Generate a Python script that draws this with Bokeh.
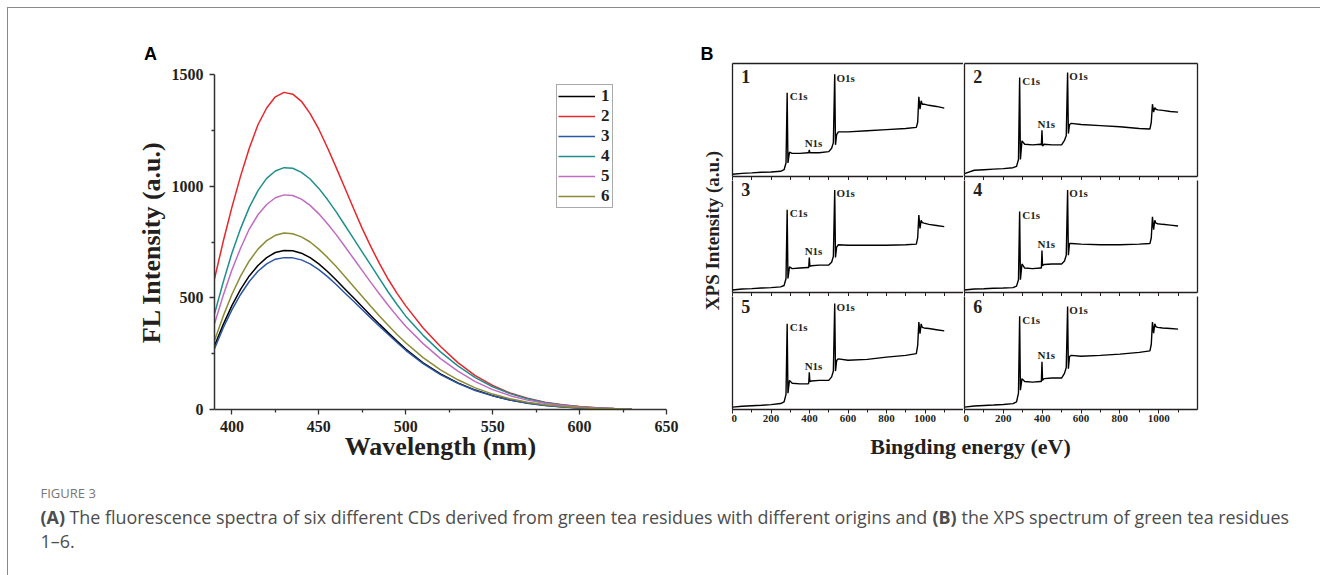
import math
from bokeh.plotting import figure
from bokeh.models import (Range1d, LinearAxis, FixedTicker, Legend, LegendItem, Spacer)
from bokeh.layouts import row, column
from bokeh.embed import file_html
from bokeh.resources import INLINE
from bokeh.core.properties import value

# ---------------- data : panel A (fluorescence spectra) ----------------
wavelength_nm = [390, 395, 400, 405, 410, 415, 420, 425, 430, 435, 440, 445,
                 450, 455, 460, 465, 470, 475, 480, 485, 490, 495, 500,
                 510, 520, 530, 540, 550, 560, 570, 580, 590, 600, 610, 620, 630]
fl_1 = [285, 380, 465, 538, 598, 645, 680, 703, 712, 711, 700, 680,
        652, 618, 580, 540, 500, 460, 420, 381, 343, 306, 271,
        209, 159, 119, 87, 62, 43, 29, 19, 12, 7, 4, 2, 1]
fl_2 = [585, 752, 905, 1045, 1170, 1275, 1350, 1400, 1420, 1412, 1380, 1325,
        1255, 1172, 1083, 992, 900, 810, 728, 652, 582, 520, 464,
        365, 282, 210, 152, 108, 74, 50, 33, 21, 13, 8, 4, 2]
fl_3 = [272, 365, 446, 515, 573, 619, 652, 673, 680, 679, 670, 652,
        626, 595, 560, 522, 485, 447, 409, 372, 336, 300, 265,
        205, 156, 117, 85, 61, 42, 28, 18, 11, 7, 4, 2, 1]
fl_4 = [428, 570, 700, 810, 905, 980, 1035, 1068, 1083, 1080, 1062, 1032,
        990, 940, 885, 825, 765, 705, 645, 585, 525, 470, 418,
        332, 258, 195, 143, 102, 71, 48, 31, 20, 12, 7, 4, 2]
fl_5 = [384, 510, 625, 722, 808, 872, 918, 948, 961, 958, 942, 914,
        876, 832, 783, 730, 676, 622, 568, 516, 466, 418, 373,
        295, 228, 172, 125, 89, 62, 42, 28, 18, 11, 6, 3, 1]
fl_6 = [309, 418, 515, 597, 665, 718, 756, 780, 790, 787, 773, 750,
        718, 681, 640, 596, 551, 506, 461, 418, 376, 336, 299,
        232, 177, 133, 97, 69, 48, 32, 21, 13, 8, 5, 3, 1]
fl_names = ["1", "2", "3", "4", "5", "6"]
fl_colors = ["#000000", "#e8262b", "#2c56a8", "#1f8f8c", "#c06cc0", "#8c8c36"]

a_x_ticks = [400, 450, 500, 550, 600, 650]
a_x_minor = [425, 475, 525, 575, 625]
a_y_ticks = [0, 500, 1000, 1500]
a_y_minor = [250, 750, 1250]

# ---------------- data : panel B (XPS survey spectra) ----------------
energy_eV = [0, 50, 100, 150, 200, 250, 268, 278, 284, 288, 296, 310,
             350, 392, 396, 399, 402, 410, 450, 500, 515, 524, 531, 535,
             541, 550, 600, 700, 800, 900, 955, 962, 968, 974, 980, 986,
             995, 1020, 1060, 1100]
xps_1 = [2.0, 2.8, 3.2, 3.8, 4.0, 4.6, 6.0, 12.0, 74.0, 12.0, 21.5, 20.5,
         20.5, 21.0, 21.0, 23.5, 21.0, 21.0, 21.0, 22.0, 25.0, 30.0, 90.5, 28.0,
         37.0, 39.5, 39.5, 40.5, 41.5, 42.5, 43.5, 48.0, 70.5, 59.5, 67.0, 64.0,
         64.0, 63.0, 62.0, 60.5]
xps_2 = [2.5, 5.5, 6.0, 6.5, 7.0, 7.8, 9.0, 15.0, 87.5, 15.0, 31.5, 28.5,
         28.0, 28.5, 28.0, 41.0, 27.0, 28.5, 28.0, 28.0, 32.0, 36.0, 92.0, 38.0,
         46.0, 47.0, 46.0, 45.0, 44.0, 42.5, 42.0, 48.0, 64.0, 57.0, 61.0, 59.5,
         59.0, 58.5, 57.5, 57.0]
xps_3 = [2.2, 3.0, 3.3, 3.8, 4.2, 4.8, 6.0, 12.0, 71.0, 12.0, 22.0, 20.5,
         21.0, 21.5, 21.5, 30.0, 22.5, 23.0, 23.5, 23.5, 26.0, 31.0, 88.0, 30.0,
         39.0, 41.0, 40.5, 40.5, 40.5, 41.0, 41.5, 47.0, 66.5, 55.0, 62.0, 60.0,
         59.5, 58.5, 57.5, 56.5]
xps_4 = [2.2, 3.0, 3.2, 3.6, 3.8, 4.2, 5.5, 11.0, 69.5, 11.0, 24.5, 21.0,
         20.5, 21.0, 21.0, 36.0, 23.0, 24.0, 24.5, 24.5, 27.0, 32.0, 88.0, 32.0,
         42.0, 42.0, 41.5, 41.0, 41.0, 41.5, 42.0, 47.0, 65.0, 54.0, 62.0, 59.5,
         59.0, 58.5, 57.8, 57.0]
xps_5 = [2.0, 2.8, 3.2, 3.6, 4.2, 5.1, 6.5, 13.0, 73.5, 14.0, 25.0, 22.5,
         22.0, 22.0, 22.5, 32.0, 24.0, 24.5, 25.0, 25.0, 28.0, 33.0, 91.0, 33.0,
         42.0, 43.5, 42.3, 43.0, 45.0, 46.5, 48.0, 55.0, 75.0, 65.0, 73.5, 70.5,
         70.0, 69.5, 68.5, 67.5]
xps_6 = [2.0, 3.0, 3.4, 3.8, 4.3, 5.0, 6.5, 14.0, 80.0, 16.6, 26.5, 24.0,
         23.5, 24.0, 24.0, 41.0, 25.0, 26.5, 27.0, 27.0, 31.0, 36.0, 88.5, 35.0,
         45.5, 46.5, 45.7, 46.5, 47.5, 49.0, 50.3, 56.0, 75.0, 65.5, 73.5, 71.0,
         70.5, 70.0, 69.5, 69.0]
xps_series = [xps_1, xps_2, xps_3, xps_4, xps_5, xps_6]
xps_labels = ["1", "2", "3", "4", "5", "6"]
peak_names = ["C1s", "N1s", "O1s"]
peak_energy = [284, 399, 531]
b_x_ticks = [0, 200, 400, 600, 800, 1000]
b_x_minor = [100, 300, 500, 700, 900, 1100]

caption_head = "FIGURE 3"
caption_parts = [("(A)", "bold"),
                 ("The fluorescence spectra of six different CDs derived from green tea residues with different origins and", "normal"),
                 ("(B)", "bold"),
                 ("the XPS spectrum of green tea residues", "normal")]
caption_line2 = "1\u20136."

# ---------------- styling ----------------
SERIF = "Liberation Serif"
SANS = "Liberation Sans"
CAPF = "Open Sans"
INK = "#231f20"
FRAME = "#8a8a8a"


def blank_fig(w, h, xr, yr):
    p = figure(width=w, height=h, x_range=Range1d(*xr), y_range=Range1d(*yr),
               output_backend="svg", toolbar_location=None,
               x_axis_location=None, y_axis_location=None,
               min_border_left=0, min_border_right=0, min_border_top=0, min_border_bottom=0)
    p.frame_align = False
    p.outline_line_color = None
    p.grid.visible = False
    p.background_fill_color = "white"
    p.border_fill_color = "white"
    return p


# ---------------- panel A ----------------
stripA = blank_fig(689, 58, (0, 689), (0, 58))
stripA.text(x=[142], y=[12.5], text=["A"], text_font=value(SANS),
            text_font_style="bold", text_font_size="18px", text_color="#000000",
            text_align="center", text_baseline="middle")

pA = figure(width=689, height=404, x_range=Range1d(390, 650), y_range=Range1d(0, 1500),
            output_backend="svg", toolbar_location=None,
            min_border_left=206, min_border_right=31, min_border_top=8, min_border_bottom=61)
pA.frame_align = False
pA.outline_line_color = None
pA.grid.visible = False
pA.background_fill_color = "white"
pA.border_fill_color = "white"
pA.xaxis.axis_label = "Wavelength (nm)"
pA.yaxis.axis_label = "FL Intensity (a.u.)"
pA.xaxis.ticker = FixedTicker(ticks=a_x_ticks, minor_ticks=a_x_minor)
pA.yaxis.ticker = FixedTicker(ticks=a_y_ticks, minor_ticks=a_y_minor)
for ax in (pA.xaxis[0], pA.yaxis[0]):
    ax.axis_line_color = "#333333"
    ax.axis_line_width = 1.5
    ax.major_tick_line_color = "#333333"
    ax.minor_tick_line_color = "#333333"
    ax.major_tick_line_width = 1.3
    ax.minor_tick_line_width = 1.3
    ax.major_tick_in = 0
    ax.major_tick_out = 5
    ax.minor_tick_in = 0
    ax.minor_tick_out = 3
    ax.major_label_text_font = SERIF
    ax.major_label_text_font_style = "bold"
    ax.major_label_text_font_size = "16px"
    ax.major_label_text_color = INK
    ax.major_label_standoff = 6
    ax.axis_label_text_font = SERIF
    ax.axis_label_text_font_style = "bold"
    ax.axis_label_text_font_size = "26px"
    ax.axis_label_text_color = INK
pA.xaxis.axis_label_standoff = -3
pA.yaxis.axis_label_standoff = 3

fl_all = [fl_1, fl_2, fl_3, fl_4, fl_5, fl_6]
items = []
for name, ys, col in zip(fl_names, fl_all, fl_colors):
    r = pA.line(wavelength_nm, ys, line_color=col, line_width=1.5)
    items.append(LegendItem(label=name, renderers=[r]))
legend = Legend(items=items, location=(342, 201), orientation="vertical",
                border_line_color="#555555", border_line_width=1,
                background_fill_color="white", background_fill_alpha=1.0,
                padding=1, margin=0, spacing=0,
                glyph_width=37, glyph_height=20, label_height=20, label_width=10,
                label_standoff=6,
                label_text_font=SERIF, label_text_font_style="bold",
                label_text_font_size="17px", label_text_color=INK)
pA.add_layout(legend)

panelA = column(stripA, pA)

# ---------------- panel B ----------------


def line_only_axis():
    ax = LinearAxis(ticker=FixedTicker(ticks=[], minor_ticks=[]))
    ax.axis_line_color = INK
    ax.axis_line_width = 1.3
    ax.major_tick_in = 0
    ax.major_tick_out = 0
    ax.minor_tick_in = 0
    ax.minor_tick_out = 0
    ax.major_label_standoff = 0
    return ax


row_heights = [118, 116, 133]
row_ymax = [100.0, 96.1, 97.0]


def make_cell(k):
    r, c = divmod(k, 2)
    w = 232 if c == 0 else 257
    p = figure(width=w, height=row_heights[r],
               x_range=Range1d(0, 1200), y_range=Range1d(0, row_ymax[r]),
               output_backend="svg", toolbar_location=None,
               x_axis_location=None, y_axis_location=None,
               min_border_left=1, min_border_right=(0 if c == 0 else 23),
               min_border_top=(1 if r == 0 else 0),
               min_border_bottom=(20 if r == 2 else 0))
    p.frame_align = False
    p.outline_line_color = None
    p.grid.visible = False
    p.background_fill_color = "white"
    p.border_fill_color = "white"

    if r == 2:
        bx = LinearAxis(ticker=FixedTicker(ticks=b_x_ticks, minor_ticks=b_x_minor))
        bx.major_label_text_font = SERIF
        bx.major_label_text_font_style = "bold"
        bx.major_label_text_font_size = "11px"
        bx.major_label_text_color = INK
        bx.major_label_standoff = 1
    else:
        # inner dividers: tick marks only, no tick labels
        bx = LinearAxis(ticker=FixedTicker(ticks=[], minor_ticks=b_x_ticks + b_x_minor))
        bx.major_label_standoff = 0
    bx.axis_line_color = INK
    bx.axis_line_width = 1.3
    bx.major_tick_line_color = INK
    bx.minor_tick_line_color = INK
    bx.major_tick_in = 0
    bx.major_tick_out = 4
    bx.minor_tick_in = 0
    bx.minor_tick_out = 3 if r == 2 else 4
    p.add_layout(bx, "below")
    p.add_layout(line_only_axis(), "left")
    if c == 1:
        p.add_layout(line_only_axis(), "right")
    if r == 0:
        p.add_layout(line_only_axis(), "above")

    ys = xps_series[k]
    p.line(energy_eV, ys, line_color="#000000", line_width=1.4)

    c1 = ys[energy_eV.index(peak_energy[0])]
    n1 = ys[energy_eV.index(peak_energy[1])]
    o1 = ys[energy_eV.index(peak_energy[2])]
    p.text(x=[45], y=[88.5], text=[xps_labels[k]], text_font=value(SERIF),
           text_font_style="bold", text_font_size="18px", text_color=INK,
           text_align="left", text_baseline="middle")
    p.text(x=[peak_energy[0] + 14, peak_energy[2] + 9],
           y=[c1 - 3, o1 - 3], text=[peak_names[0], peak_names[2]],
           text_font=value(SERIF), text_font_style="bold", text_font_size="11px",
           text_color=INK, text_align="left", text_baseline="middle")
    p.text(x=[peak_energy[1] + 22], y=[n1 + 0.5], text=[peak_names[1]],
           text_font=value(SERIF), text_font_style="bold", text_font_size="11px",
           text_color=INK, text_align="center", text_baseline="bottom")
    return p


cells = [make_cell(k) for k in range(6)]

labB = blank_fig(34, 462, (0, 34), (0, 462))
labB.text(x=[9.5], y=[416.5], text=["B"], text_font=value(SANS),
          text_font_style="bold", text_font_size="18px", text_color="#000000",
          text_align="center", text_baseline="middle")
labB.text(x=[15], y=[240], text=["XPS Intensity (a.u.)"], angle=[math.pi / 2],
          text_font=value(SERIF), text_font_style="bold", text_font_size="19px",
          text_color=INK, text_align="center", text_baseline="middle")

titleB = blank_fig(489, 41, (0, 489), (0, 41))
titleB.text(x=[239], y=[24], text=["Bingding energy (eV)"], text_font=value(SERIF),
            text_font_style="bold", text_font_size="22px", text_color=INK,
            text_align="center", text_baseline="middle")

panelB = row(labB, column(Spacer(width=489, height=54),
                          row(cells[0], cells[1]), row(cells[2], cells[3]),
                          row(cells[4], cells[5]), titleB))

# ---------------- caption ----------------
cap = blank_fig(1312, 105, (0, 1312), (0, 105))
cap.text(x=[32], y=[83], text=[caption_head], text_font=value(CAPF),
         text_font_size="13px", text_color="#777777", text_align="left",
         text_baseline="middle")
part_x = [32, 61, 924, 953]
for (txt, style), px in zip(caption_parts, part_x):
    cap.text(x=[px], y=[59], text=[txt], text_font=value(CAPF), text_font_style=style,
             text_font_size="17.9px", text_color="#4d4d4d", text_align="left",
             text_baseline="middle")
cap.text(x=[32], y=[35], text=[caption_line2], text_font=value(CAPF),
         text_font_size="17.9px", text_color="#4d4d4d", text_align="left",
         text_baseline="middle")

# ---------------- page layout ----------------
top_line = Spacer(width=1313, height=1, styles={"background-color": FRAME})
left_line = Spacer(width=1, height=567, styles={"background-color": FRAME})
content = column(row(panelA, panelB), cap)
page = column(Spacer(width=1320, height=7),
              row(Spacer(width=7, height=1), top_line),
              row(Spacer(width=7, height=567), left_line, content))

open("out.html", "w").write(file_html(page, INLINE))
